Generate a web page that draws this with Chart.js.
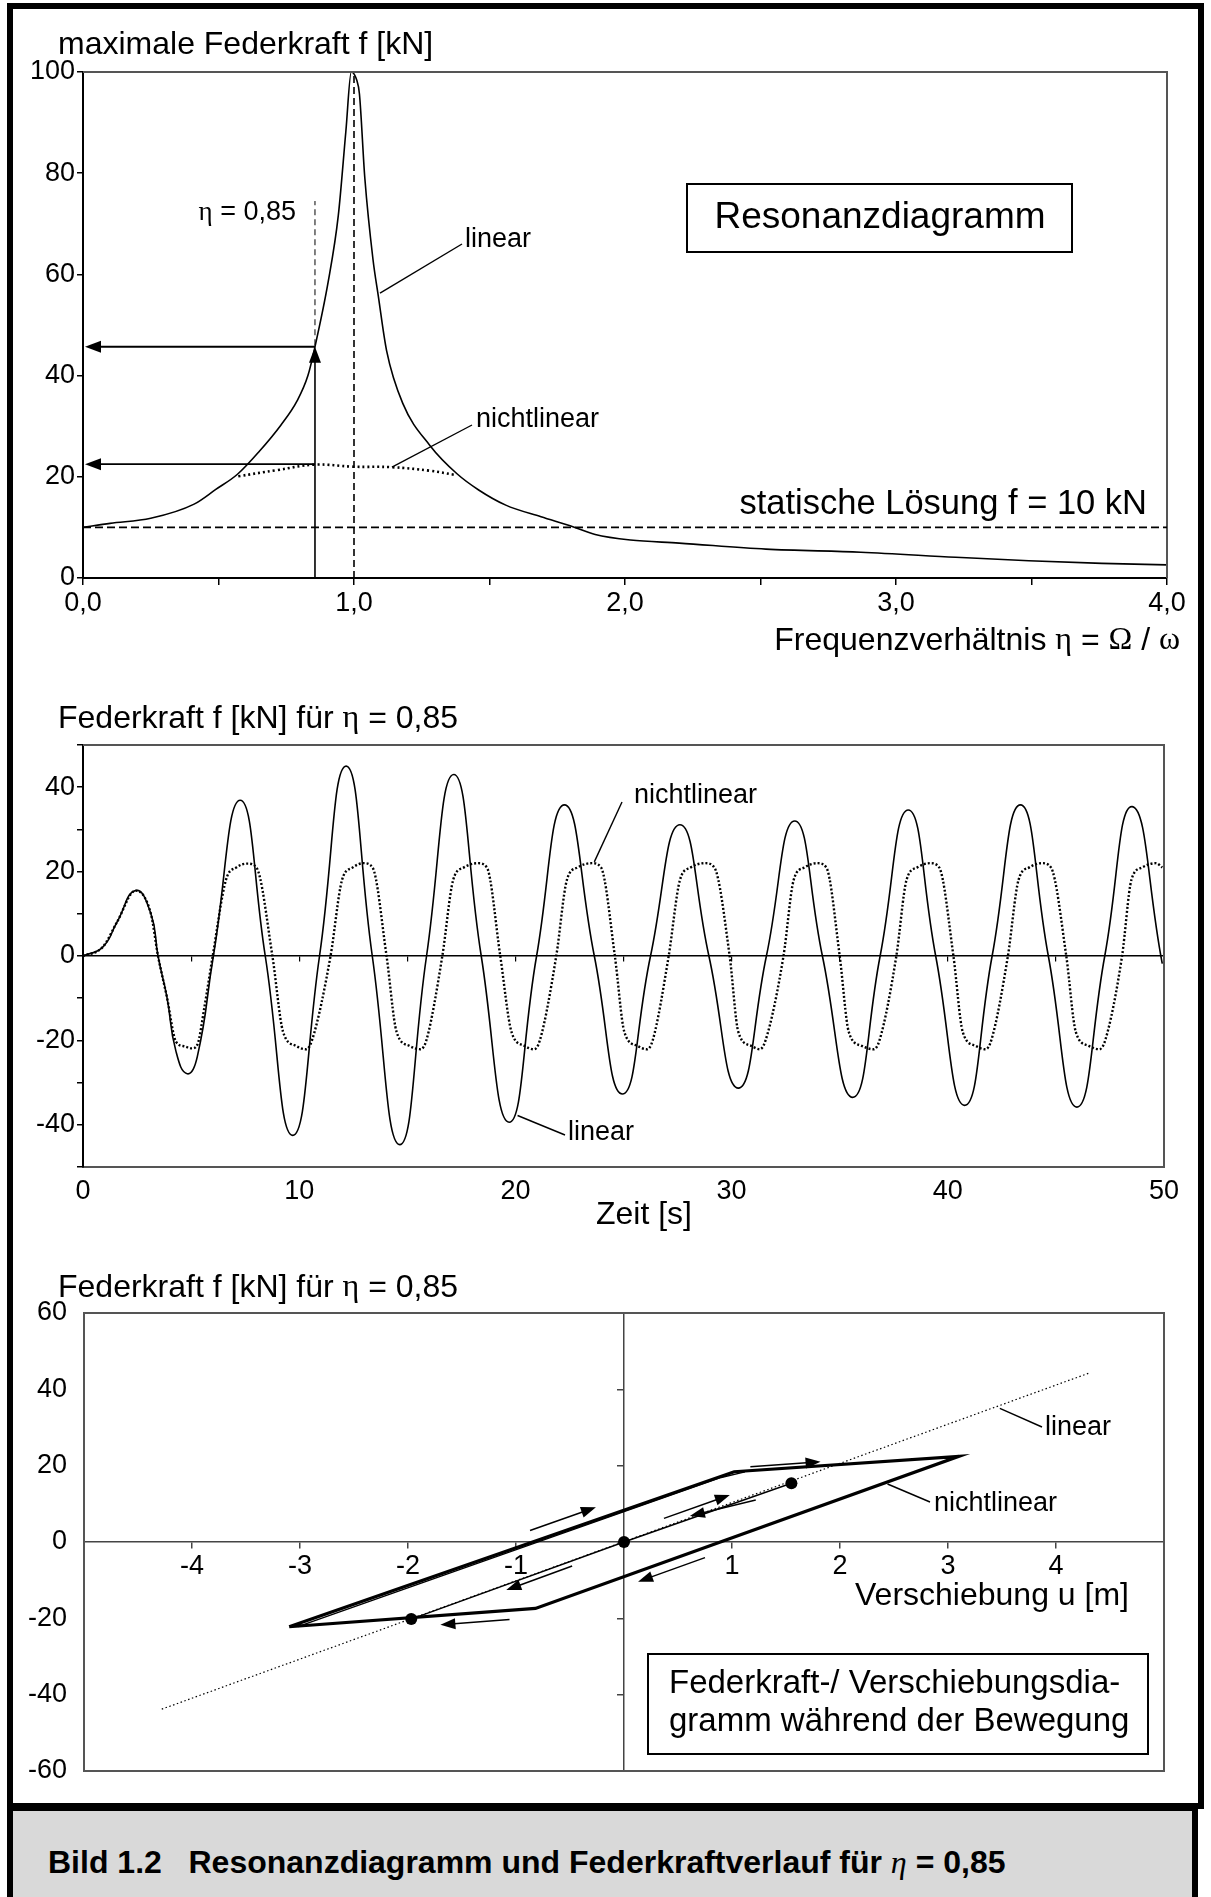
<!DOCTYPE html>
<html>
<head>
<meta charset="utf-8">
<script src="https://cdn.jsdelivr.net/npm/chart.js@4.4.1/dist/chart.umd.min.js"></script>
<style>
  body { margin: 0; width: 1211px; height: 1897px; position: relative; overflow: hidden; background: #fff; font-family: "Liberation Sans", Arial, sans-serif; }
  .frame { position: absolute; left: 7px; top: 3px; width: 1185px; height: 1800px; border: 6px solid #000; border-bottom: none; }
  .caption { position: absolute; left: 7px; top: 1803px; width: 1191px; height: 94px; background: #d9d9d9; border-top: 8px solid #000; border-left: 6px solid #000; border-right: 6px solid #000; box-sizing: border-box; }
  .caption span { position: absolute; left: 35px; top: 33px; font-weight: bold; font-size: 32px; white-space: pre; }
  .caption i { font-family: "Liberation Serif", "Times New Roman", serif; font-weight: normal; }
  canvas { position: absolute; left: 0; }
</style>
</head>
<body>
<div class="frame"></div>
<canvas id="c1" width="1211" height="680" style="top:0"></canvas>
<canvas id="c2" width="1211" height="560" style="top:680px"></canvas>
<canvas id="c3" width="1211" height="560" style="top:1240px"></canvas>
<div class="caption"><span>Bild 1.2   Resonanzdiagramm und Federkraftverlauf für <i>η</i> = 0,85</span></div>
<script>
// Resonanzdiagramm: max. Federkraft über Frequenzverhältnis
const resEta = [0, 0.1, 0.25, 0.41, 0.49, 0.57, 0.65, 0.73, 0.79, 0.83, 0.856, 0.905, 0.942, 0.97, 0.99, 1.01, 1.02, 1.04, 1.07, 1.09, 1.12, 1.18, 1.28, 1.38, 1.46, 1.56, 1.69, 1.81, 1.89, 2.02, 2.2, 2.52, 2.87, 3.22, 3.49, 3.76, 4.0];
const resLinear = [10, 10.8, 11.8, 14.6, 17.5, 20.5, 25, 30.2, 35, 40, 45.7, 58.6, 71.6, 88.3, 100, 98.4, 95.7, 79, 63, 55.6, 45, 34.5, 26.2, 20.6, 17.4, 14.4, 12.1, 10.1, 8.6, 7.5, 6.9, 5.7, 5.1, 4.1, 3.4, 2.9, 2.6];
const nlEta = [0.573, 0.714, 0.856, 0.997, 1.139, 1.28, 1.37];
const nlForce = [20.1, 21.3, 22.4, 22.0, 21.9, 21.2, 20.4];

// Zeitverlauf der Federkraft
const timeLin = [0, 0.91, 1.57, 2.43, 3.14, 3.47, 3.88, 4.30, 4.82, 5.29, 6.03, 7.27, 8.43, 9.70, 10.94, 12.17, 13.38, 14.65, 15.89, 17.15, 18.42, 19.71, 20.98, 22.27, 23.65, 24.95, 26.25, 27.61, 28.95, 30.31, 31.61, 32.92, 34.20, 35.60, 36.87, 38.17, 39.44, 40.78, 42.05, 43.36, 44.65, 45.97, 47.26, 48.53, 49.92];
const forceLin = [0, 2.1, 8.0, 15.5, 10, 0, -9.7, -22.6, -27.9, -23.8, 0, 36.9, 0, -42.5, 0, 45, 0, -44.7, 0, 43, 0, -39.4, 0, 35.8, 0, -32.7, 0, 31.1, 0, -31.3, 0, 32.0, 0, -33.5, 0, 34.6, 0, -35.4, 0, 35.8, 0, -35.8, 0, 35.4, -1.8];
const timeNl = [0, 0.91, 1.57, 2.43, 3.14, 3.47, 3.88, 4.30, 4.70, 5.04, 5.29, 5.62, 6.00, 6.61, 7.10, 7.60, 8.02, 8.76,
  9.25, 9.85, 10.32, 10.59, 11.45, 11.98, 12.48, 12.97, 13.39, 14.04,
  14.50, 15.10, 15.61, 15.88, 16.62, 17.12, 17.62, 18.26, 18.68, 19.30,
  19.82, 20.42, 20.86, 21.13, 21.89, 22.38, 22.88, 23.54, 23.96, 24.60,
  25.04, 25.64, 26.08, 26.35, 27.09, 27.61, 28.11, 28.78, 29.20, 29.91,
  30.31, 30.91, 31.30, 31.57, 32.40, 32.87, 33.37, 33.96, 34.38, 35.00,
  35.42, 36.02, 36.57, 36.84, 37.62, 38.09, 38.59, 39.18, 39.60, 40.26,
  40.69, 41.29, 41.74, 42.01, 42.78, 43.27, 43.77, 44.35, 44.77, 45.48,
  45.92, 46.52, 47.01, 47.28, 48.06, 48.49, 48.99, 49.63, 49.92];
const forceNl = [0, 2.1, 8.0, 15.5, 10, 0, -9.7, -20.3, -21.4, -21.9, -21.0, -12, 0, 18, 21, 21.9, 21, 0,
  -17.9, -21.3, -22.1, -20, 0, 18, 21, 22, 21, 0,
  -17.9, -21.3, -22.1, -20, 0, 18, 21, 22, 21, 0,
  -18, -21.3, -22.1, -20, 0, 18, 21, 22, 21, 0,
  -18, -21.3, -22.1, -20, 0, 18, 21, 22, 21, 0,
  -18, -21.3, -22.1, -20, 0, 18, 21, 22, 21, 0,
  -18, -21.3, -22.1, -20, 0, 18, 21, 22, 21, 0,
  -18, -21.3, -22.1, -20, 0, 18, 21, 22, 21, 0,
  -18, -21.3, -22.1, -20, 0, 18, 21, 22, 21];

// Federkraft-/ Verschiebungsdiagramm
const loopU = [-3.10, 1.02, 3.10, -0.82, -3.10];
const loopF = [-22.2, 18.4, 22.45, -17.4, -22.2];
const firstU = [-3.02, 0.90, 1.12];
const firstF = [-22.2, 16.9, 18.35];
const innerU = [-1.97, 0, 1.55];
const innerF = [-20.2, 0, 15.4];
const linU = [-4.28, 4.31];
const linF = [-43.8, 44.3];
const dotU = [-1.97, 0, 1.55];
const dotF = [-20.2, 0, 15.4];

const SANS = '"Liberation Sans", Arial, sans-serif';
const SERIF = '"Liberation Serif", "Times New Roman", serif';
const TICK = 27;

const pts = (xs, ys) => xs.map((x, i) => ({ x, y: ys[i] }));
const fnt = (s, f) => s + 'px ' + (f || SANS);

function rich(ctx, parts, x, y, align) {
  let w = 0;
  parts.forEach(p => { ctx.font = p[1]; w += ctx.measureText(p[0]).width; });
  let cx = align === 'right' ? x - w : align === 'center' ? x - w / 2 : x;
  ctx.textAlign = 'left';
  ctx.textBaseline = 'middle';
  ctx.fillStyle = '#000';
  parts.forEach(p => { ctx.font = p[1]; ctx.fillText(p[0], cx, y); cx += ctx.measureText(p[0]).width; });
}

function seg(ctx, x1, y1, x2, y2, w, dash) {
  ctx.save();
  ctx.lineWidth = w;
  ctx.strokeStyle = '#000';
  ctx.setLineDash(dash || []);
  ctx.beginPath(); ctx.moveTo(x1, y1); ctx.lineTo(x2, y2); ctx.stroke();
  ctx.restore();
}

function arrow(ctx, x1, y1, x2, y2, w, head, half) {
  const a = Math.atan2(y2 - y1, x2 - x1);
  const c = Math.cos(a), s = Math.sin(a);
  seg(ctx, x1, y1, x2 - c * head * 0.7, y2 - s * head * 0.7, w);
  ctx.fillStyle = '#000';
  ctx.beginPath();
  ctx.moveTo(x2, y2);
  ctx.lineTo(x2 - head * c + half * s, y2 - head * s - half * c);
  ctx.lineTo(x2 - head * c - half * s, y2 - head * s + half * c);
  ctx.closePath(); ctx.fill();
}

function frameTopRight(ctx, a, color) {
  ctx.save();
  ctx.strokeStyle = color; ctx.lineWidth = 2;
  ctx.beginPath(); ctx.moveTo(a.left, a.top); ctx.lineTo(a.right, a.top); ctx.lineTo(a.right, a.bottom); ctx.stroke();
  ctx.restore();
}

const common = {
  animation: false, responsive: false, events: [],
  plugins: { legend: { display: false }, tooltip: { enabled: false } }
};

// ---------- Chart 1 ----------
const deco1 = {
  id: 'deco1',
  afterDraw(chart) {
    const { ctx, chartArea: a, scales: { x, y } } = chart;
    const X = v => x.getPixelForValue(v), Y = v => y.getPixelForValue(v);
    frameTopRight(ctx, a, '#555');
    seg(ctx, X(1), Y(0), X(1), Y(100), 1.6, [7, 4]);
    seg(ctx, X(0), Y(10), X(4), Y(10), 1.6, [8, 4]);
    seg(ctx, X(0.856), Y(46), X(0.856), Y(74.5), 1, [6, 4]);
    arrow(ctx, X(0.856), Y(0), X(0.856), Y(45.7), 1.6, 16, 6);
    arrow(ctx, X(0.856), Y(45.7), a.left + 2, Y(45.7), 1.8, 16, 6);
    arrow(ctx, X(0.856), Y(22.5), a.left + 2, Y(22.5), 1.8, 16, 6);
    seg(ctx, X(1.096), Y(56.3), 462, 244, 1.4);
    seg(ctx, X(1.14), Y(21.9), 472, 425, 1.4);
    rich(ctx, [['maximale Federkraft f [kN]', fnt(32)]], 58, 45);
    rich(ctx, [['Frequenzverhältnis ', fnt(32)], ['η', fnt(32, SERIF)], [' = ', fnt(32)], ['Ω', fnt(32, SERIF)], [' / ', fnt(32)], ['ω', fnt(32, SERIF)]], 1180, 641, 'right');
    rich(ctx, [['η', fnt(27, SERIF)], [' = 0,85', fnt(27)]], 296, 213, 'right');
    rich(ctx, [['linear', fnt(27)]], 465, 240);
    rich(ctx, [['nichtlinear', fnt(27)]], 476, 420);
    rich(ctx, [['statische Lösung f = 10 kN', fnt(34.5)]], 1147, 504, 'right');
    ctx.save(); ctx.lineWidth = 2; ctx.strokeStyle = '#000';
    ctx.strokeRect(687, 184, 385, 68); ctx.restore();
    rich(ctx, [['Resonanzdiagramm', fnt(37)]], 880, 218, 'center');
  }
};

new Chart(document.getElementById('c1'), {
  type: 'line',
  data: {
    datasets: [
      { data: pts(resEta, resLinear), borderColor: '#000', borderWidth: 1.6, pointRadius: 0, cubicInterpolationMode: 'monotone' },
      { data: pts(nlEta, nlForce), borderColor: '#000', borderWidth: 2.6, borderDash: [2, 3], pointRadius: 0, tension: 0.4 }
    ]
  },
  options: {
    ...common,
    layout: { padding: { top: 72, right: 44, left: 0, bottom: 0 } },
    scales: {
      x: {
        type: 'linear', min: 0, max: 4,
        afterFit: s => { s.height = 102; },
        grid: { drawOnChartArea: false, tickLength: 7, color: '#000', lineWidth: 1.5 },
        border: { color: '#000', width: 2 },
        ticks: { stepSize: 0.5, autoSkip: false, maxRotation: 0, padding: 2, color: '#000', font: { family: SANS, size: TICK },
          callback: v => Number.isInteger(v) ? v.toFixed(1).replace('.', ',') : '' }
      },
      y: {
        min: 0, max: 100,
        afterFit: s => { s.width = 83; },
        grid: { drawOnChartArea: false, tickLength: 6, color: '#000', lineWidth: 1.5 },
        border: { color: '#000', width: 2 },
        ticks: { stepSize: 20, padding: 2, color: '#000', font: { family: SANS, size: TICK } }
      }
    }
  },
  plugins: [deco1]
});

// ---------- Chart 2 ----------
const deco2 = {
  id: 'deco2',
  afterDraw(chart) {
    const { ctx, chartArea: a, scales: { x, y } } = chart;
    const X = v => x.getPixelForValue(v), Y = v => y.getPixelForValue(v);
    frameTopRight(ctx, a, '#555');
    rich(ctx, [['Federkraft f [kN] für ', fnt(32)], ['η', fnt(32, SERIF)], [' = 0,85', fnt(32)]], 58, 39);
    rich(ctx, [['Zeit [s]', fnt(32)]], 644, 535, 'center');
    rich(ctx, [['nichtlinear', fnt(27)]], 634, 116);
    seg(ctx, X(23.65), Y(22.3), 622, 122, 1.4);
    rich(ctx, [['linear', fnt(27)]], 568, 453);
    seg(ctx, X(20.1), Y(-37.8), 565, 455, 1.4);
  }
};

new Chart(document.getElementById('c2'), {
  type: 'line',
  data: {
    datasets: [
      { data: pts(timeLin, forceLin), borderColor: '#000', borderWidth: 1.6, pointRadius: 0, tension: 0.5 },
      { data: pts(timeNl, forceNl), borderColor: '#000', borderWidth: 2.4, borderDash: [2, 2], pointRadius: 0, cubicInterpolationMode: 'monotone' }
    ]
  },
  options: {
    ...common,
    layout: { padding: { top: 65, right: 47, left: 0, bottom: 0 } },
    scales: {
      x: {
        type: 'linear', min: 0, max: 50,
        afterFit: s => { s.height = 73; },
        grid: { display: false, drawTicks: false },
        border: { color: '#555', width: 2 },
        ticks: { stepSize: 10, autoSkip: false, maxRotation: 0, padding: 8, color: '#000', font: { family: SANS, size: TICK } }
      },
      x2: {
        type: 'linear', axis: 'x', position: { y: 0 }, min: 0, max: 50,
        grid: { drawOnChartArea: false, tickLength: 5, color: '#000', lineWidth: 1.2 },
        border: { color: '#000', width: 1.5 },
        ticks: { stepSize: 5, display: false }
      },
      y: {
        min: -50, max: 50,
        afterFit: s => { s.width = 83; },
        grid: { drawOnChartArea: false, tickLength: 6, color: '#000', lineWidth: 1.5 },
        border: { color: '#000', width: 2 },
        ticks: { stepSize: 10, autoSkip: false, padding: 2, color: '#000', font: { family: SANS, size: TICK },
          callback: v => v % 20 === 0 ? String(v) : '' }
      }
    }
  },
  plugins: [deco2]
});

// ---------- Chart 3 ----------
const deco3 = {
  id: 'deco3',
  beforeDatasetsDraw(chart) {
    const { ctx, chartArea: a } = chart;
    ctx.save(); ctx.strokeStyle = '#555'; ctx.lineWidth = 2;
    ctx.strokeRect(a.left, a.top, a.right - a.left, a.bottom - a.top); ctx.restore();
  },
  afterDraw(chart) {
    const { ctx, scales: { x, y } } = chart;
    const X = v => x.getPixelForValue(v), Y = v => y.getPixelForValue(v);
    const arr = (u1, f1, u2, f2) => arrow(ctx, X(u1), Y(f1), X(u2), Y(f2), 1.5, 15, 5.5);
    arr(1.17, 19.7, 1.82, 21.0);
    arr(-0.87, 3.0, -0.26, 9.1);
    arr(0.37, 6.2, 0.98, 12.3);
    arr(1.22, 11.0, 0.61, 6.8);
    arr(-0.48, -6.3, -1.09, -12.6);
    arr(0.75, -4.1, 0.13, -10.4);
    arr(-1.06, -20.3, -1.70, -21.7);
    rich(ctx, [['Federkraft f [kN] für ', fnt(32)], ['η', fnt(32, SERIF)], [' = 0,85', fnt(32)]], 58, 48);
    rich(ctx, [['Verschiebung u [m]', fnt(32)]], 855, 356);
    rich(ctx, [['linear', fnt(27)]], 1045, 188);
    seg(ctx, X(3.48), Y(35), 1042, 187, 1.4);
    rich(ctx, [['nichtlinear', fnt(27)]], 934, 264);
    seg(ctx, X(2.44), Y(15.2), 930, 262, 1.4);
    ctx.save(); ctx.lineWidth = 2; ctx.strokeStyle = '#000';
    ctx.strokeRect(648, 414, 500, 100); ctx.restore();
    rich(ctx, [['Federkraft-/ Verschiebungsdia-', fnt(33)]], 669, 444);
    rich(ctx, [['gramm während der Bewegung', fnt(33)]], 669, 482);
  }
};

new Chart(document.getElementById('c3'), {
  type: 'scatter',
  data: {
    datasets: [
      { data: pts(linU, linF), showLine: true, borderColor: '#000', borderWidth: 1.2, borderDash: [1.5, 2.5], pointRadius: 0 },
      { data: pts(firstU, firstF), showLine: true, borderColor: '#000', borderWidth: 1.3, pointRadius: 0 },
      { data: pts(innerU, innerF), showLine: true, borderColor: '#000', borderWidth: 1.4, pointRadius: 0 },
      { data: pts(loopU, loopF), showLine: true, borderColor: '#000', borderWidth: 3.2, pointRadius: 0 },
      { data: pts(dotU, dotF), showLine: false, pointRadius: 6, pointBackgroundColor: '#000', pointBorderWidth: 0 }
    ]
  },
  options: {
    ...common,
    layout: { padding: { top: 73, right: 47, left: 0, bottom: 29 } },
    scales: {
      x: {
        type: 'linear', position: { y: 0 }, min: -5, max: 5,
        grid: { drawOnChartArea: false, tickLength: 6, color: '#444', lineWidth: 1.5 },
        border: { color: '#444', width: 1.5 },
        ticks: { stepSize: 1, autoSkip: false, maxRotation: 0, padding: 2, color: '#000', font: { family: SANS, size: TICK },
          callback: v => (v === 0 || Math.abs(v) === 5) ? '' : String(v) }
      },
      y: {
        min: -60, max: 60,
        afterFit: s => { s.width = 84; },
        grid: { display: false },
        border: { display: false },
        ticks: { stepSize: 20, padding: 9, color: '#000', font: { family: SANS, size: TICK } }
      },
      y2: {
        type: 'linear', axis: 'y', position: { x: 0 }, min: -60, max: 60,
        grid: { drawOnChartArea: false, tickLength: 6, color: '#444', lineWidth: 1.5 },
        border: { color: '#444', width: 1.5 },
        ticks: { stepSize: 20, display: false }
      }
    }
  },
  plugins: [deco3]
});
</script>
</body>
</html>
